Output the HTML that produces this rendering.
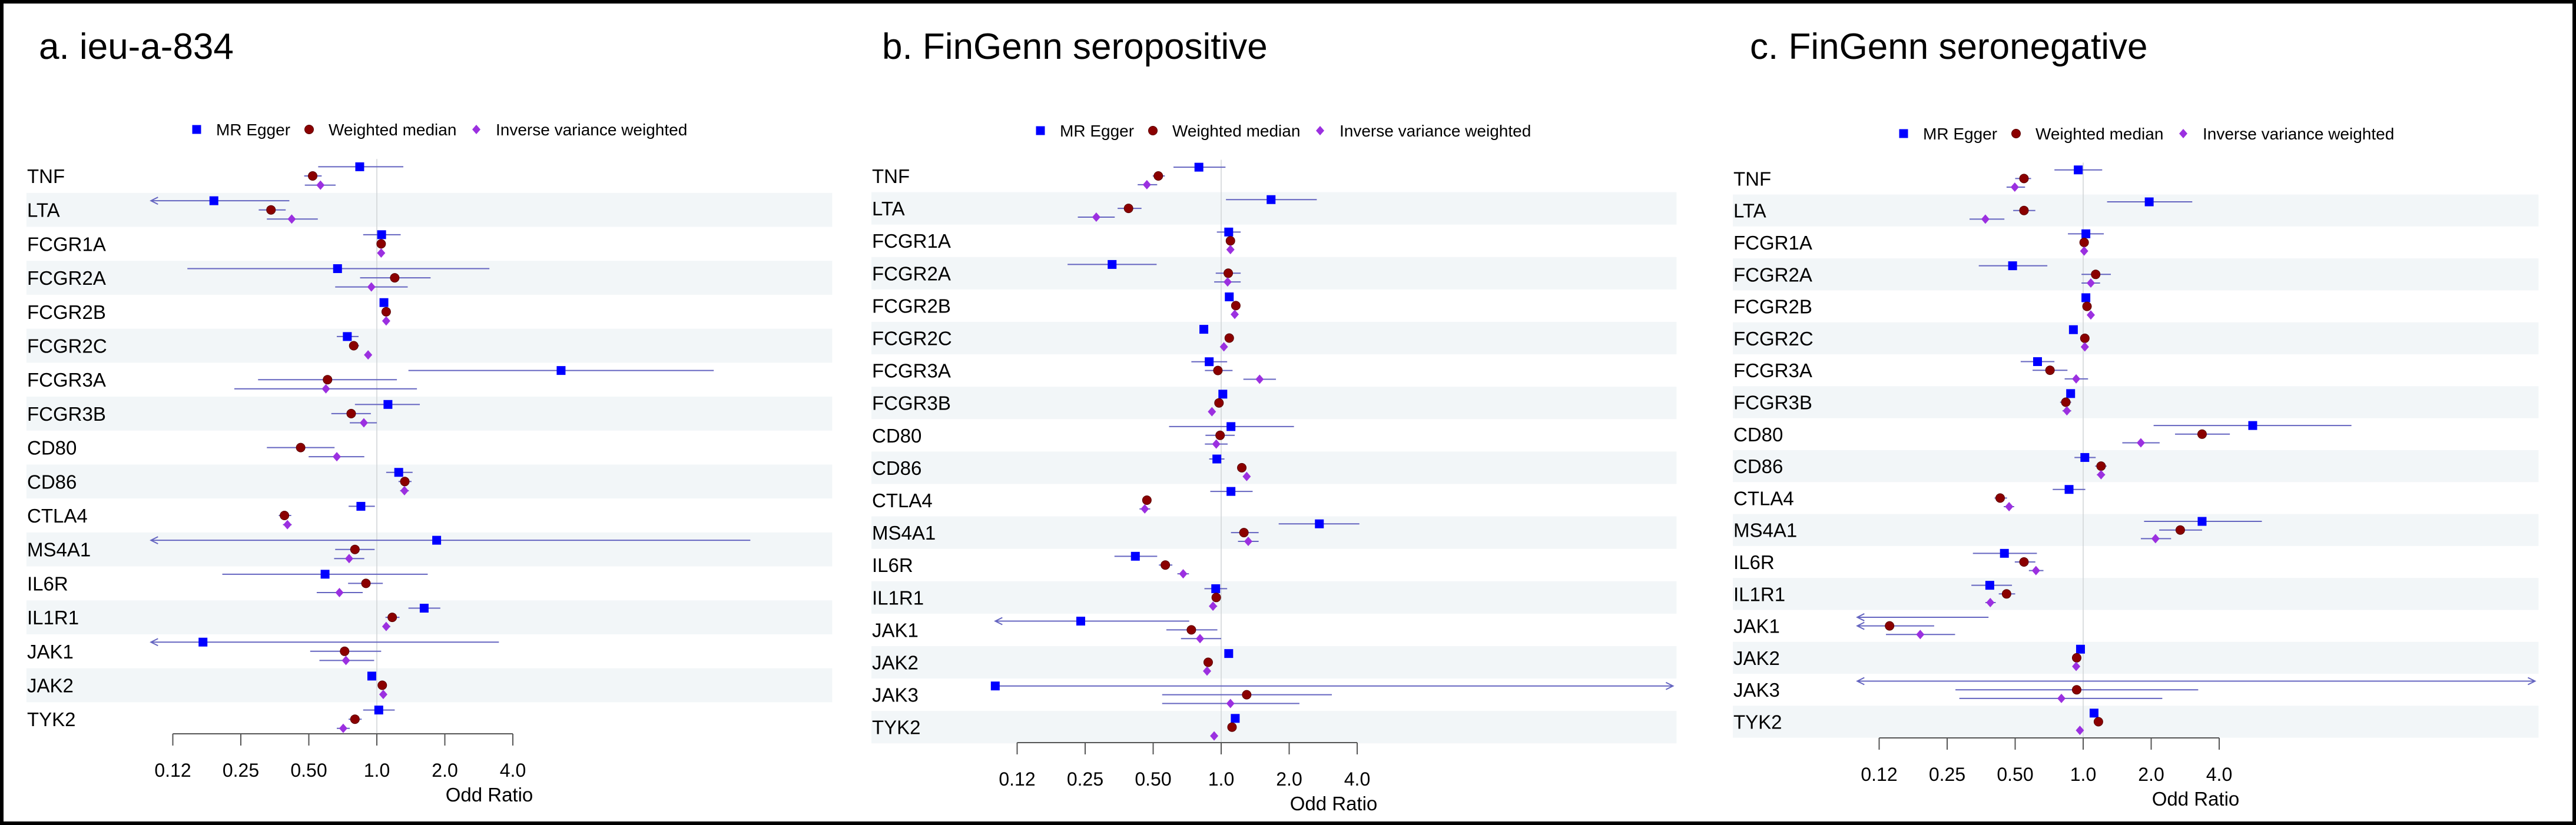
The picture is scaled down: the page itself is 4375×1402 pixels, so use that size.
<!DOCTYPE html>
<html><head><meta charset="utf-8"><style>
html,body{margin:0;padding:0;background:#fff;}
svg{display:block;font-family:"Liberation Sans",Arial,sans-serif;}
</style></head><body>
<svg id="fig" width="4375" height="1402" viewBox="0 0 4375 1402" xmlns="http://www.w3.org/2000/svg">
<rect x="0" y="0" width="4375" height="1402" fill="#fff"/>
<rect x="3" y="3" width="4369" height="1396" fill="none" stroke="#000" stroke-width="6"/>
</svg>
<script>
// ---------- Panel A data ----------
const genesA = ["TNF","LTA","FCGR1A","FCGR2A","FCGR2B","FCGR2C","FCGR3A","FCGR3B","CD80","CD86","CTLA4","MS4A1","IL6R","IL1R1","JAK1","JAK2","TYK2"];
const eggerA   = [0.84,0.19,1.05,0.67,1.075,0.74,6.54,1.12,null,1.25,0.85,1.84,0.59,1.62,0.17,0.95,1.02];
const eggerLoA = [0.55,0.05,0.87,0.145,1.03,0.665,1.38,0.80,null,1.10,0.75,0.05,0.207,1.38,0.05,0.91,0.87];
const eggerHiA = [1.31,0.41,1.275,3.15,1.12,0.83,31,1.55,null,1.44,0.98,45,1.68,1.91,3.47,0.98,1.2];
const wmA      = [0.52,0.34,1.045,1.2,1.1,0.79,0.605,0.77,0.46,1.33,0.39,0.80,0.895,1.17,0.72,1.057,0.80];
const wmLoA    = [0.477,0.30,1.0,0.843,1.07,0.755,0.298,0.629,0.326,1.247,0.368,0.654,0.746,1.092,0.507,1.025,0.75];
const wmHiA    = [0.57,0.395,1.08,1.73,1.14,0.834,1.227,0.941,0.65,1.424,0.418,0.978,1.063,1.26,1.045,1.09,0.857];
const ivwA     = [0.563,0.42,1.045,0.946,1.1,0.915,0.595,0.876,0.665,1.325,0.402,0.754,0.683,1.1,0.73,1.068,0.71];
const ivwLoA   = [0.48,0.326,1.02,0.654,1.07,0.88,0.234,0.759,0.499,1.268,0.384,0.647,0.542,1.063,0.557,1.035,0.665];
const ivwHiA   = [0.657,0.548,1.075,1.37,1.13,0.95,1.505,1.0,0.88,1.386,0.42,0.88,0.866,1.148,0.973,1.1,0.759];
// ---------- Panel B data ----------
const genesB = ["TNF","LTA","FCGR1A","FCGR2A","FCGR2B","FCGR2C","FCGR3A","FCGR3B","CD80","CD86","CTLA4","MS4A1","IL6R","IL1R1","JAK1","JAK2","JAK3","TYK2"];
const eggerB   = [0.797,1.663,1.08,0.329,1.086,0.838,0.885,1.017,1.105,0.957,1.105,2.72,0.417,0.946,0.239,1.08,0.1,1.154];
const eggerLoB = [0.615,1.05,0.957,0.209,1.05,0.81,0.738,0.98,0.588,0.885,0.895,1.797,0.337,0.843,0.05,1.05,0.1,1.12];
const eggerHiB = [1.045,2.65,1.22,0.518,1.12,0.87,1.063,1.05,2.1,1.034,1.378,4.09,0.521,1.063,0.722,1.11,200,1.19];
const wmB      = [0.527,0.389,1.099,1.075,1.161,1.086,0.967,0.978,0.989,1.234,0.469,1.261,0.566,0.951,0.738,0.876,1.297,1.117];
const wmLoB    = [0.498,0.348,1.065,0.946,1.13,1.05,0.847,0.95,0.852,1.19,0.45,1.105,0.53,0.92,0.572,0.85,0.548,1.085];
const wmHiB    = [0.563,0.444,1.13,1.22,1.19,1.12,1.123,1.01,1.148,1.28,0.49,1.465,0.608,0.99,0.962,0.905,3.09,1.15];
const ivwB     = [0.469,0.28,1.099,1.068,1.148,1.028,1.48,0.91,0.951,1.297,0.459,1.318,0.679,0.92,0.806,0.866,1.099,0.931];
const ivwLoB   = [0.427,0.232,1.07,0.931,1.115,1.0,1.254,0.88,0.847,1.25,0.435,1.187,0.64,0.885,0.664,0.84,0.548,0.9];
const ivwHiB   = [0.521,0.338,1.13,1.22,1.18,1.055,1.748,0.94,1.068,1.34,0.485,1.465,0.72,0.96,1.0,0.895,2.22,0.96];
// ---------- Panel C data ----------
const genesC = ["TNF","LTA","FCGR1A","FCGR2A","FCGR2B","FCGR2C","FCGR3A","FCGR3B","CD80","CD86","CTLA4","MS4A1","IL6R","IL1R1","JAK1","JAK2","JAK3","TYK2"];
const eggerC   = [0.951,1.96,1.028,0.487,1.028,0.905,0.628,0.88,5.63,1.017,0.866,3.36,0.448,0.386,null,0.973,null,1.117];
const eggerLoC = [0.746,1.276,0.856,0.345,1.0,0.875,0.529,0.845,2.05,0.915,0.733,1.86,0.325,0.32,0.05,0.94,0.05,1.085];
const eggerHiC = [1.214,3.04,1.234,0.694,1.06,0.94,0.746,0.92,15.4,1.136,1.022,6.18,0.624,0.484,0.381,1.01,200,1.15];
const wmC      = [0.547,0.547,1.01,1.136,1.04,1.017,0.713,0.838,3.36,1.2,0.429,2.69,0.547,0.458,0.139,0.936,0.936,1.168];
const wmLoC    = [0.5,0.49,0.98,0.983,1.01,0.985,0.597,0.79,2.55,1.13,0.405,2.17,0.498,0.423,0.05,0.905,0.272,1.135];
const wmHiC    = [0.588,0.614,1.045,1.326,1.075,1.05,0.852,0.885,4.46,1.27,0.46,3.36,0.614,0.5,0.219,0.97,3.23,1.2];
const ivwC     = [0.498,0.369,1.01,1.081,1.081,1.017,0.931,0.847,1.8,1.2,0.47,2.09,0.618,0.388,0.19,0.931,0.801,0.967];
const ivwLoC   = [0.458,0.314,0.985,0.983,1.045,0.99,0.828,0.81,1.49,1.15,0.445,1.8,0.575,0.369,0.134,0.9,0.283,0.935];
const ivwHiC   = [0.553,0.448,1.04,1.188,1.115,1.045,1.051,0.885,2.18,1.25,0.495,2.45,0.667,0.41,0.271,0.965,2.24,1.0];
// ---------- axis ----------
const tickValues = [0.125,0.25,0.5,1,2,4];
const tickLabels = ["0.12","0.25","0.50","1.0","2.0","4.0"];
const legendLabels = ["MR Egger","Weighted median","Inverse variance weighted"];

const NS = "http://www.w3.org/2000/svg";
const svg = document.getElementById("fig");
function mk(tag, attrs, parent){
  const e = document.createElementNS(NS, tag);
  for (const k in attrs) e.setAttribute(k, attrs[k]);
  (parent||svg).appendChild(e);
  return e;
}
const XMIN = 0.1, XMAX = 100;
const CI_COLOR = "#6464c0";

function drawMarker(g, type, x, y){
  let m;
  if (type === 0){
    m = mk("rect",{x:x-7.5,y:y-7.5,width:15,height:15,fill:"#0000ff"},g);
    
  } else if (type === 1){
    m = mk("circle",{cx:x,cy:y,r:7.5,fill:"#8b0000",stroke:"#5a0000","stroke-width":1},g);
    
  } else {
    m = mk("polygon",{points:`${x},${y-8} ${x+7},${y} ${x},${y+8} ${x-7},${y}`,fill:"#9b30e0"},g);
    
  }
  
}

function drawPanel(cfg, genes, series){
  const g = mk("g",{});
  
  
  const xs = v => cfg.x1 + cfg.k*Math.log2(v);
  const xL = xs(XMIN), xR = xs(XMAX);
  const ys = i => cfg.y0 + cfg.dy*i;
  const off = cfg.dy*0.27;

  const t = mk("text",{x:cfg.titleX,y:100,"font-size":62,fill:"#000"},g);
  t.textContent = cfg.title;
  
  

  const lg = mk("g",{},g);
  
  
  const lx = cfg.legX, ly = cfg.legY;
  const mOff = [0,191,475], tOff=[33,224,508];
  for (let s=0;s<3;s++){
    drawMarker(lg, s, lx+mOff[s], ly);
    const lt = mk("text",{x:lx+tOff[s],y:ly+10,"font-size":28,fill:"#000"},lg);
    lt.textContent = legendLabels[s];
    
    
  }

  for (let i=0;i<genes.length;i++){
    if (i%2===1){
      const r = mk("rect",{x:cfg.labelX,y:ys(i)-cfg.dy/2,width:xR-cfg.labelX+6,height:cfg.dy,fill:"#f2f6f8"},g);
      
      
    }
  }
  for (let i=0;i<genes.length;i++){
    const lab = mk("text",{x:cfg.labelX+1,y:ys(i)+12,"font-size":33,fill:"#000"},g);
    lab.textContent = genes[i];
    
    
  }
  const ref = mk("line",{x1:xs(1),x2:xs(1),y1:ys(0)-cfg.dy/2,y2:cfg.axisY,stroke:"#cfd3d6","stroke-width":1.5},g);
  
  

  for (let s=0;s<3;s++){
    const [val, lo, hi] = series[s];
    for (let i=0;i<genes.length;i++){
      const y = ys(i) + (s-1)*off;
      if (lo[i]!==null && hi[i]!==null){
        const a = Math.max(xs(lo[i]), xL), b = Math.min(xs(hi[i]), xR);
        const ln = mk("line",{x1:a,x2:b,y1:y,y2:y,stroke:CI_COLOR,"stroke-width":2},g);
        
        
        if (lo[i] < XMIN){
          const ar = mk("polyline",{points:`${xL+12},${y-6} ${xL},${y} ${xL+12},${y+6}`,fill:"none",stroke:CI_COLOR,"stroke-width":2},g);
          
          
        }
        if (hi[i] > XMAX){
          const ar = mk("polyline",{points:`${xR-12},${y-6} ${xR},${y} ${xR-12},${y+6}`,fill:"none",stroke:CI_COLOR,"stroke-width":2},g);
          
          
        }
      }
      if (val[i]!==null && val[i]>=XMIN*0.99 && val[i]<=XMAX){
        drawMarker(g, s, xs(val[i]), y);
      }
    }
  }

  const ax = mk("g",{},g);
  
  
  const axl = mk("line",{x1:xs(tickValues[0]),x2:xs(tickValues[tickValues.length-1]),y1:cfg.axisY,y2:cfg.axisY,stroke:"#555","stroke-width":2},ax);
  
  
  for (let j=0;j<tickValues.length;j++){
    const x = xs(tickValues[j]);
    const tk = mk("line",{x1:x,x2:x,y1:cfg.axisY,y2:cfg.axisY+20,stroke:"#555","stroke-width":2},ax);
    
    
    const tl = mk("text",{x:x,y:cfg.axisY+73,"font-size":32,"text-anchor":"middle",fill:"#000"},ax);
    tl.textContent = tickLabels[j];
    
    
  }
  const xt = mk("text",{x:cfg.x1+191,y:cfg.axisY+115,"font-size":33,"text-anchor":"middle",fill:"#000"},ax);
  xt.textContent = "Odd Ratio";
  
  
}

drawPanel({name:"panel-a",title:"a. ieu-a-834",titleX:66,legX:334,legY:220,labelX:45,x1:640,k:115.5,y0:299,dy:57.7,axisY:1247},
  genesA,[[eggerA,eggerLoA,eggerHiA],[wmA,wmLoA,wmHiA],[ivwA,ivwLoA,ivwHiA]]);
drawPanel({name:"panel-b",title:"b. FinGenn seropositive",titleX:1498,legX:1767,legY:222,labelX:1480,x1:2074,k:115.5,y0:299,dy:55.1,axisY:1262},
  genesB,[[eggerB,eggerLoB,eggerHiB],[wmB,wmLoB,wmHiB],[ivwB,ivwLoB,ivwHiB]]);
drawPanel({name:"panel-c",title:"c. FinGenn seronegative",titleX:2972,legX:3233,legY:227,labelX:2943,x1:3538,k:115.5,y0:303.4,dy:54.3,axisY:1254},
  genesC,[[eggerC,eggerLoC,eggerHiC],[wmC,wmLoC,wmHiC],[ivwC,ivwLoC,ivwHiC]]);
</script>
</body></html>
